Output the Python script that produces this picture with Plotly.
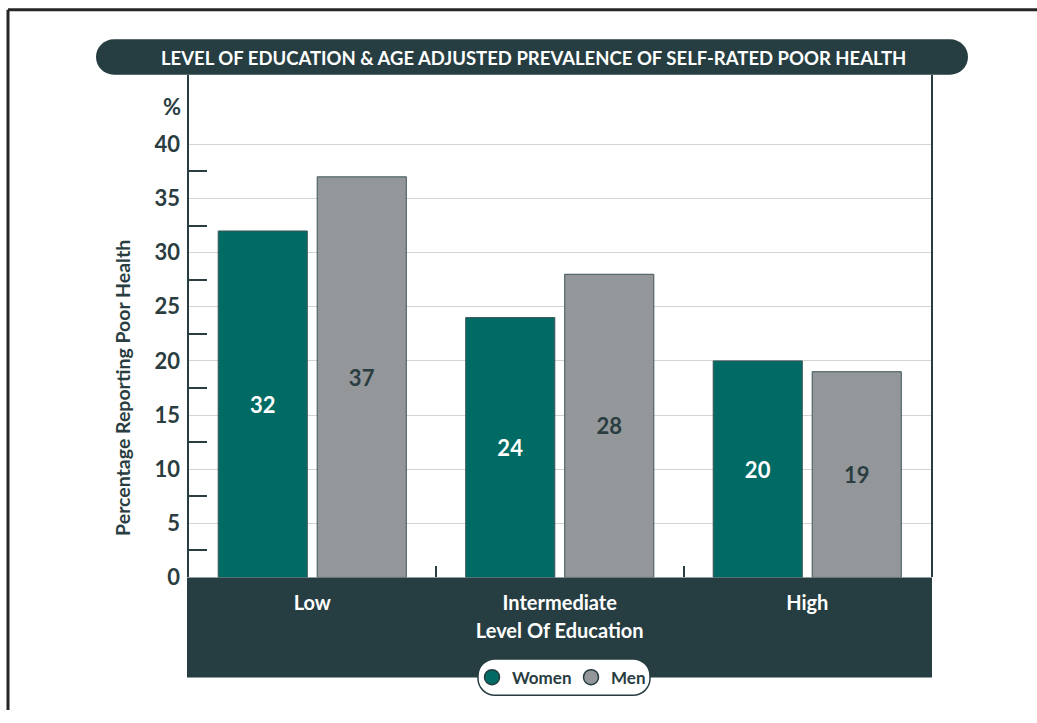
import plotly.graph_objects as go

W, H = 1037, 723

categories = ["Low", "Intermediate", "High"]
women = [32, 24, 20]
men = [37, 28, 19]
y_ticks = [0, 5, 10, 15, 20, 25, 30, 35, 40]
minor_ticks = [2.5, 7.5, 12.5, 17.5, 22.5, 27.5, 32.5, 37.5]

TEAL = "#006a64"
GRAY = "#93979a"
DARK = "#263d42"
TXT = "#2a3d41"
FONT = "Lato"


def px(x):
    return x / W


def py(y):
    return 1 - y / H


def rounded_path(x0, y0, x1, y1, r):
    k = 0.5523 * r
    def P(x, y):
        return f"{px(x):.5f},{py(y):.5f}"
    pts = [
        f"M {P(x0 + r, y0)}",
        f"L {P(x1 - r, y0)}",
        f"C {P(x1 - r + k, y0)} {P(x1, y0 + r - k)} {P(x1, y0 + r)}",
        f"L {P(x1, y1 - r)}",
        f"C {P(x1, y1 - r + k)} {P(x1 - r + k, y1)} {P(x1 - r, y1)}",
        f"L {P(x0 + r, y1)}",
        f"C {P(x0 + r - k, y1)} {P(x0, y1 - r + k)} {P(x0, y1 - r)}",
        f"L {P(x0, y0 + r)}",
        f"C {P(x0, y0 + r - k)} {P(x0 + r - k, y0)} {P(x0 + r, y0)}",
        "Z",
    ]
    return " ".join(pts)


fig = go.Figure()

fig.add_trace(go.Bar(
    x=categories, y=women, name="Women", showlegend=False,
    marker=dict(color=TEAL, line=dict(color="#3c5557", width=1)),
    text=[str(v) for v in women], textposition="inside",
    insidetextanchor="middle", textangle=0,
    textfont=dict(family=FONT, size=22, color="white", weight=700),
))
fig.add_trace(go.Bar(
    x=categories, y=men, name="Men", showlegend=False,
    marker=dict(color=GRAY, line=dict(color="#3c5557", width=1)),
    text=[str(v) for v in men], textposition="inside",
    insidetextanchor="middle", textangle=0,
    textfont=dict(family=FONT, size=22, color=TXT, weight=700),
))
# legend entries with circular markers
fig.add_trace(go.Scatter(
    x=[None], y=[None], mode="markers", name="Women", legend="legend",
    marker=dict(symbol="circle", size=15, color=TEAL, line=dict(color=DARK, width=1.5)),
))
fig.add_trace(go.Scatter(
    x=[None], y=[None], mode="markers", name="Men", legend="legend2",
    marker=dict(symbol="circle", size=15, color=GRAY, line=dict(color=DARK, width=1.5)),
))

y0_px, ytop_px, y40_px = 588, 76, 147
unit = (y0_px - y40_px) / 40.0
ymax = (y0_px - ytop_px) / unit

shapes = [
    dict(type="rect", xref="paper", yref="paper", x0=px(187), x1=px(932),
         y0=py(690), y1=py(588), fillcolor=DARK, line=dict(width=0), layer="below"),
    dict(type="path", xref="paper", yref="paper", path=rounded_path(96, 40, 968, 76, 18),
         fillcolor=DARK, line=dict(width=0), layer="above"),
    dict(type="path", xref="paper", yref="paper", path=rounded_path(478, 671, 650, 708, 17),
         fillcolor="white", line=dict(color=DARK, width=1.5), layer="above"),
    dict(type="line", xref="paper", yref="paper", x0=px(8), x1=1, y0=py(10), y1=py(10),
         line=dict(color="#262626", width=3), layer="above"),
    dict(type="line", xref="paper", yref="paper", x0=px(8), x1=px(8), y0=py(10), y1=0,
         line=dict(color="#262626", width=3), layer="above"),
]

annotations = [
    dict(text="LEVEL OF EDUCATION &amp; AGE ADJUSTED PREVALENCE OF SELF-RATED POOR HEALTH",
         xref="paper", yref="paper", x=px(533), y=py(59), xanchor="center", yanchor="middle",
         showarrow=False, font=dict(family=FONT, size=18.5, color="white", weight=700)),
    dict(text="%", xref="paper", yref="paper", x=px(183), y=py(108), xanchor="right",
         yanchor="middle", showarrow=False,
         font=dict(family=FONT, size=22, color=TXT, weight=700)),
    dict(text="Percentage Reporting Poor Health", xref="paper", yref="paper",
         x=px(123), y=py(395), xanchor="center", yanchor="middle", textangle=-90,
         showarrow=False, font=dict(family=FONT, size=19.5, color=TXT, weight=700)),
]

legend_font = dict(family=FONT, size=17, color=TXT, weight=700)

fig.update_layout(
    width=W, height=H,
    margin=dict(l=0, r=0, t=0, b=0),
    paper_bgcolor="white", plot_bgcolor="white",
    barmode="group", bargap=0.2, bargroupgap=0.1,
    shapes=shapes, annotations=annotations,
    showlegend=True,
    legend=dict(orientation="h", x=px(472), xanchor="left", y=py(690), yanchor="middle",
                bgcolor="rgba(0,0,0,0)", borderwidth=0, font=legend_font),
    legend2=dict(orientation="h", x=px(571), xanchor="left", y=py(690), yanchor="middle",
                 bgcolor="rgba(0,0,0,0)", borderwidth=0, font=legend_font),
    xaxis=dict(
        domain=[px(188.5), px(931)],
        showgrid=False, zeroline=False, showline=False,
        ticks="inside", tickson="boundaries", ticklen=11, tickwidth=1.5, tickcolor=TXT,
        tickfont=dict(family=FONT, size=20, color="white", weight=700),
        ticklabelstandoff=12,
        title=dict(text="Level Of Education", standoff=10,
                   font=dict(family=FONT, size=20, color="white", weight=700)),
    ),
    yaxis=dict(
        domain=[py(y0_px), py(ytop_px)],
        range=[0, ymax],
        tickmode="array", tickvals=y_ticks,
        ticktext=[str(v) for v in y_ticks],
        showgrid=True, gridcolor="#d3d3d3", gridwidth=1,
        zeroline=False,
        showline=True, linecolor=DARK, linewidth=2, mirror=True,
        ticks="",
        minor=dict(tickmode="array", tickvals=minor_ticks, ticks="inside", ticklen=18,
                   tickwidth=1.5, tickcolor=TXT, showgrid=False),
        tickfont=dict(family=FONT, size=22, color=TXT, weight=700),
        ticklabelstandoff=2,
    ),
)

fig.write_html("out.html")
